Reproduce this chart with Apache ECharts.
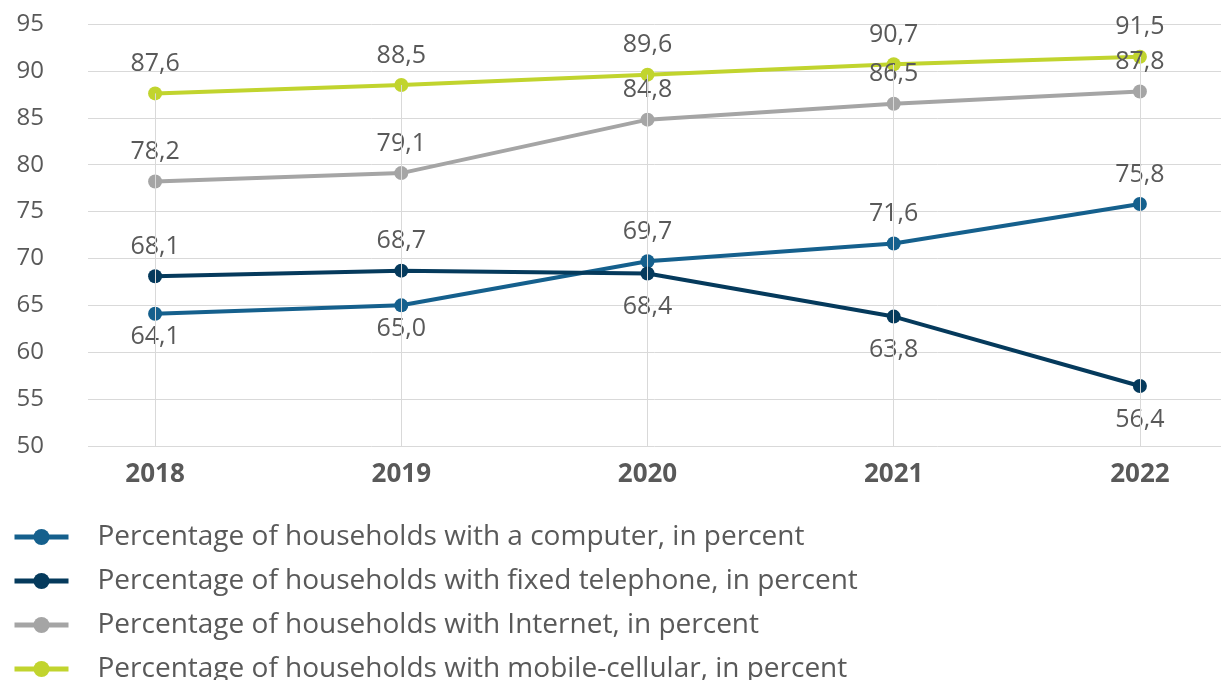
<!DOCTYPE html>
<html><head><meta charset="utf-8">
<script src="https://cdn.jsdelivr.net/npm/echarts@6/dist/echarts.min.js"></script>
<style>html,body{margin:0;padding:0;background:#fff}#c{width:1221px;height:680px}</style>
</head><body><div id="c"></div>
<script>
const years = ['2018','2019','2020','2021','2022'];
const computer = [64.1, 65.0, 69.7, 71.6, 75.8];
const fixedPhone = [68.1, 68.7, 68.4, 63.8, 56.4];
const internet = [78.2, 79.1, 84.8, 86.5, 87.8];
const mobile = [87.6, 88.5, 89.6, 90.7, 91.5];
const seriesNames = [
  'Percentage of households with a computer, in percent',
  'Percentage of households with fixed telephone, in percent',
  'Percentage of households with Internet, in percent',
  'Percentage of households with mobile-cellular, in percent'
];
const yMin = 50, yMax = 95, yStep = 5;

const FONT = '"Open Sans", "Noto Sans", sans-serif';
const TXT = '#595959';
const colors = ['#15608d', '#053a5c', '#a5a5a5', '#c1d42e'];

function fmt(v){ return v.toFixed(1).replace('.', ','); }

function seriesOf(name, data, color, posFn, below, z){
  return {
    name, type: 'line', data: data.map((v,i)=>({value:v, label:{position: posFn(i), distance: posFn(i)==='top'?10:below}})),
    xAxisIndex: 1, yAxisIndex: 1, z,
    symbol: 'circle', symbolSize: 14,
    lineStyle: {color, width: 4},
    itemStyle: {color},
    label: {show: true, formatter: p => fmt(p.value), fontFamily: FONT, fontSize: 25, color: TXT},
    emphasis: {disabled: true}, animation: false
  };
}

const chart = echarts.init(document.getElementById('c'), null, {renderer:'canvas'});
const mob = seriesOf(seriesNames[3], mobile, colors[3], ()=> 'top', 10, 2);
mob.markLine = {
  silent: true, symbol: 'none', animation: false,
  lineStyle: {color: '#d9d9d9', width: 1, type: 'solid'},
  label: {show: false},
  data: mobile.map((v,i)=>[{coord:[i, v]}, {coord:[i, yMin]}])
};
chart.setOption({
  backgroundColor: '#fff',
  animation: false,
  grid: [
    {left: 88, right: 0, top: 24, bottom: 234, outerBoundsMode: 'none', containLabel: false},
    {left: 32, width: 1231, top: 24, bottom: 234, outerBoundsMode: 'none', containLabel: false}
  ],
  xAxis: [
    {gridIndex: 0, type: 'category', data: years, show: false},
    {gridIndex: 1, type: 'category', data: years, boundaryGap: true,
     axisLine: {show: false}, axisTick: {show: false}, splitLine: {show: false},
     axisLabel: {fontFamily: FONT, fontSize: 26, fontWeight: 'bold', color: TXT, margin: 16}}
  ],
  yAxis: [
    {gridIndex: 0, type: 'value', min: yMin, max: yMax, interval: yStep,
     axisLine: {show: false}, axisTick: {show: false},
     splitLine: {lineStyle: {color: '#d9d9d9', width: 1}},
     axisLabel: {fontFamily: FONT, fontSize: 24, color: TXT, margin: 44}},
    {gridIndex: 1, type: 'value', min: yMin, max: yMax, interval: yStep, show: false}
  ],
  legend: {
    orient: 'vertical', left: 12, top: 523, height: 300, padding: 0,
    itemWidth: 54, itemHeight: 20, itemGap: 16,
    data: seriesNames,
    lineStyle: {width: 5},
    textStyle: {fontFamily: FONT, fontSize: 28, color: TXT, padding: [0,0,0,24]}
  },
  series: [
    seriesOf(seriesNames[0], computer, colors[0], i => computer[i] > fixedPhone[i] ? 'top' : 'bottom', 4, 3),
    seriesOf(seriesNames[1], fixedPhone, colors[1], i => fixedPhone[i] > computer[i] ? 'top' : 'bottom', 14, 3),
    seriesOf(seriesNames[2], internet, colors[2], ()=> 'top', 10, 3),
    mob
  ]
});
</script></body></html>
